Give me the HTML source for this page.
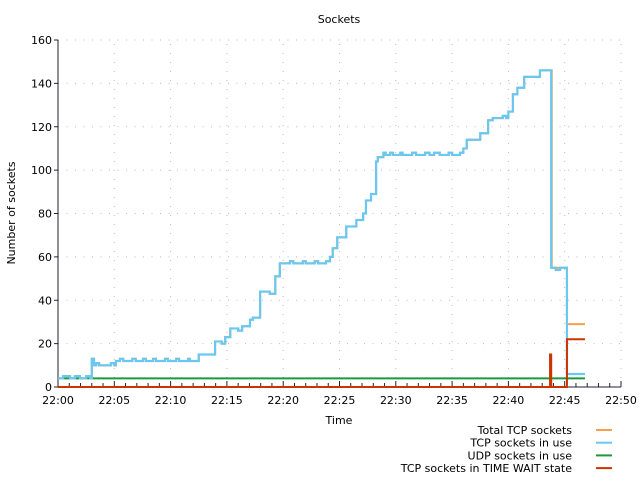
<!DOCTYPE html>
<html><head><meta charset="utf-8"><style>
body{margin:0;background:#fff;}
svg text{font-family:"DejaVu Sans","Liberation Sans",sans-serif;font-size:11px;fill:#000;}
</style></head><body>
<svg id="chart" width="640" height="480" xmlns="http://www.w3.org/2000/svg">
<text x="339" y="23" text-anchor="middle">Sockets</text>
<text x="339" y="424" text-anchor="middle">Time</text>
<text transform="translate(15,213) rotate(-90)" text-anchor="middle">Number of sockets</text>
<g id="grid"></g><g id="axes"></g><g id="series"></g><g id="legend"></g>
</svg>
<script>
const xTicks = [0,5,10,15,20,25,30,35,40,45,50];
const xTickLabels = ["22:00","22:05","22:10","22:15","22:20","22:25","22:30","22:35","22:40","22:45","22:50"];
const yTicks = [0,20,40,60,80,100,120,140,160];
const inUseT = [0,0.45,1.07,1.5,1.95,2.5,2.85,3.0,3.2,3.4,3.65,4.7,5.0,5.15,5.5,5.8,6.6,6.9,7.55,7.8,8.45,8.7,9.5,9.75,10.5,10.75,11.55,11.7,12.5,13.95,14.55,14.85,15.3,16.0,16.35,17.05,17.3,17.95,18.8,19.3,19.7,20.6,20.9,21.75,22.0,22.8,23.1,23.8,24.15,24.4,24.8,25.6,26.5,27.1,27.35,27.8,28.25,28.4,28.9,29.1,29.5,29.75,30.4,30.6,31.45,31.8,32.6,33.0,33.4,33.9,34.7,35.0,35.7,36.0,36.3,37.5,38.2,38.6,39.5,39.8,40.0,40.4,40.8,41.4,42.8,43.8,44.2,44.6,45.2,46.8];
const inUseV = [4,5,4,5,4,5,4,13,10,11,10,11,10,12,13,12,13,12,13,12,13,12,13,12,13,12,13,12,15,21,20,23,27,26,28,31,32,44,43,51,57,58,57,58,57,58,57,58,60,64,69,74,77,80,86,89,104,106,108,107,108,107,108,107,108,107,108,107,108,107,108,107,108,110,114,117,123,124,125,124,127,135,138,143,146,55,54,55,6,6];
const totalTailT = [43.85,43.85,43.85,45.2,46.8];
const totalTailV = [115,100,55,29,29];
const udpT = [0,46.8];
const udpV = [4,4];
const waitT = [0,43.7,43.8,45.2,46.8];
const waitV = [0,15,0,22,22];
const legendLabels = ["Total TCP sockets","TCP sockets in use","UDP sockets in use","TCP sockets in TIME WAIT state"];
const legendColors = ["#f5a04a","#6ac8f0","#1a9a3a","#cc3300"];

const NS="http://www.w3.org/2000/svg";
const X0=58,X1=621,Y0=387,Y1=40;
const xs=m=>X0+(m/50)*(X1-X0);
const ys=v=>Y0-(v/160)*(Y0-Y1);
function mk(tag,attrs,parent){const e=document.createElementNS(NS,tag);for(const k in attrs)e.setAttribute(k,attrs[k]);parent.appendChild(e);return e;}
const grid=document.getElementById('grid'),axes=document.getElementById('axes'),series=document.getElementById('series'),legend=document.getElementById('legend');

yTicks.forEach(v=>{
  if(v>0){const g=mk('line',{x1:X0,x2:X1,y1:ys(v),y2:ys(v),stroke:'#bbb','stroke-dasharray':'1 7.5'},grid);
  
  }
  const t=mk('line',{x1:X0-4,x2:X0,y1:ys(v),y2:ys(v),stroke:'#223'},axes);
  
  
  const l=mk('text',{x:X0-6,y:ys(v)+4,'text-anchor':'end'},axes);l.textContent=v;
  
  
});
xTicks.forEach((m,i)=>{
  if(m>0){const g=mk('line',{x1:xs(m),x2:xs(m),y1:Y0,y2:Y1,stroke:'#bbb','stroke-dasharray':'1 8'},grid);
  
  }
  const l=mk('text',{x:xs(m),y:Y0+17,'text-anchor':'middle'},axes);l.textContent=xTickLabels[i];
  
  
});
for(let m=0;m<=50;m++){
  const t=mk('line',{x1:xs(m),x2:xs(m),y1:Y0,y2:Y0-(m%5==0?6:4),stroke:'#223'},axes);
  
  
}
const ax=mk('path',{d:`M${X0},${Y1}V${Y0}H${X1}`,fill:'none',stroke:'#223','stroke-width':1},axes);



function step(T,V){let d=`M${xs(T[0])},${ys(V[0])}`;for(let i=1;i<T.length;i++){d+=`H${xs(T[i])}`;if(i<V.length)d+=`V${ys(V[i])}`;}return d;}
const headIdx=inUseT.map((t,i)=>i).filter(i=>inUseT[i]<43.5);
const totalT=headIdx.map(i=>inUseT[i]).concat(totalTailT);
const totalV=headIdx.map(i=>inUseV[i]).concat(totalTailV);

const s1=mk('path',{d:step(udpT,udpV),fill:'none',stroke:legendColors[2],'stroke-width':2},series);


const s2=mk('path',{d:step(totalT,totalV),fill:'none',stroke:legendColors[0],'stroke-width':2},series);


const s3=mk('path',{d:step(inUseT,inUseV),fill:'none',stroke:legendColors[1],'stroke-width':2.2},series);


const s4=mk('path',{d:step(waitT,waitV),fill:'none',stroke:legendColors[3],'stroke-width':2},series);



legendLabels.forEach((lab,i)=>{
  const y=430+i*12.7;
  const t=mk('text',{x:572,y:y+4,'text-anchor':'end'},legend);t.textContent=lab;
  
  
  const l=mk('line',{x1:596,x2:612,y1:y,y2:y,stroke:legendColors[i],'stroke-width':2},legend);
  
  
});
</script>
</body></html>
